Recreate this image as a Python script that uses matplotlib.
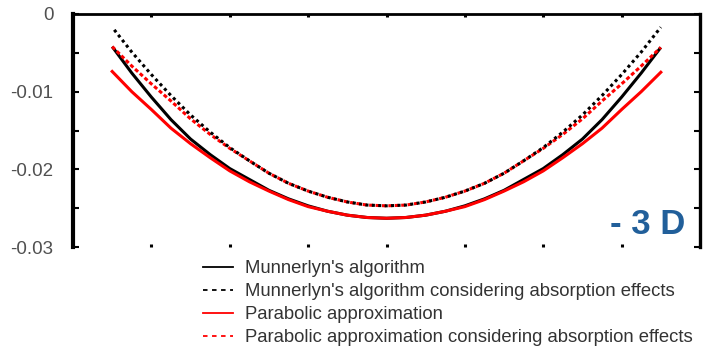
import matplotlib
matplotlib.use("Agg")
import matplotlib.pyplot as plt
from matplotlib.lines import Line2D

plt.rcParams['font.family'] = ['Liberation Sans', 'DejaVu Sans']

# Radial position (mm)
x = [-3.5, -3.25, -3.0, -2.75, -2.5, -2.25, -2.0, -1.75, -1.5, -1.25, -1.0, -0.75, -0.5, -0.25,
     0.0, 0.25, 0.5, 0.75, 1.0, 1.25, 1.5, 1.75, 2.0, 2.25, 2.5, 2.75, 3.0, 3.25, 3.5]

munnerlyn = [-0.0042, -0.0076, -0.0107, -0.0136, -0.0161, -0.0181, -0.0199, -0.0213, -0.0227,
             -0.0238, -0.0247, -0.0254, -0.0259, -0.0262, -0.0263, -0.0262, -0.0259, -0.0254,
             -0.0247, -0.0238, -0.0227, -0.0213, -0.0199, -0.0181, -0.0161, -0.0136, -0.0107,
             -0.0076, -0.0043]

munnerlyn_abs = [-0.0017, -0.0049, -0.0078, -0.0105, -0.0130, -0.0152, -0.0172, -0.0189, -0.0205,
                 -0.0218, -0.0228, -0.0236, -0.0242, -0.0246, -0.0247, -0.0246, -0.0242, -0.0236,
                 -0.0228, -0.0218, -0.0205, -0.0189, -0.0172, -0.0152, -0.0130, -0.0105, -0.0078,
                 -0.0049, -0.0017]

parabolic = [-0.0074, -0.0100, -0.0123, -0.0147, -0.0167, -0.0185, -0.0202, -0.0216, -0.0228,
             -0.0239, -0.0248, -0.0254, -0.0259, -0.0262, -0.0263, -0.0262, -0.0259, -0.0254,
             -0.0248, -0.0239, -0.0228, -0.0216, -0.0202, -0.0185, -0.0167, -0.0147, -0.0123,
             -0.0100, -0.0075]

parabolic_abs = [-0.0042, -0.0067, -0.0090, -0.0112, -0.0135, -0.0155, -0.0173, -0.0189, -0.0205,
                 -0.0218, -0.0228, -0.0236, -0.0242, -0.0246, -0.0247, -0.0246, -0.0242, -0.0236,
                 -0.0228, -0.0218, -0.0205, -0.0189, -0.0173, -0.0155, -0.0135, -0.0112, -0.0090,
                 -0.0067, -0.0043]

labels = ["Munnerlyn's algorithm",
          "Munnerlyn's algorithm considering absorption effects",
          "Parabolic approximation",
          "Parabolic approximation considering absorption effects"]

xticks = [-3, -2, -1, 0, 1, 2, 3]
yticks_major = [0, -0.01, -0.02, -0.03]
ytick_labels = ["0", "-0.01", "-0.02", "-0.03"]
yticks_minor = [-0.005, -0.015, -0.025]

fig = plt.figure(figsize=(7.03, 3.55), dpi=100)
ax = fig.add_axes([73/703, 1-247/355, (700-73)/703, (247-14)/355])

ax.plot(x, munnerlyn, color='black', lw=2.2, solid_capstyle='butt')
ax.plot(x, parabolic, color='red', lw=2.2)
ax.plot(x, parabolic_abs, color='red', lw=2.2, linestyle=(0, (1.3, 0.8)))
ax.plot(x, munnerlyn_abs, color='black', lw=2.2, linestyle=(1.0, (1.0, 1.1)))

ax.set_xlim(-4, 4)
ax.set_ylim(-0.03, 0)

ax.set_xticks(xticks)
ax.set_xticklabels([])
ax.set_yticks(yticks_major)
ax.set_yticklabels(ytick_labels)
ax.set_yticks(yticks_minor, minor=True)

ax.tick_params(axis='x', which='both', direction='in', length=2.2, width=2.2,
               top=True, bottom=True, colors='black')
ax.tick_params(axis='y', which='both', direction='in', length=4.5, width=1.5,
               left=True, right=True, pad=14, labelsize=13.5, labelcolor='#505050')

ax.spines['bottom'].set_visible(False)
ax.spines['left'].set_linewidth(3)
ax.spines['right'].set_linewidth(2.4)
ax.spines['top'].set_linewidth(2)

fig.text(685/703, 1-224/355, "- 3 D", ha='right', va='center',
         fontsize=25, fontweight='bold', color='#215F9A')

handles = [Line2D([], [], color='black', lw=1.3),
           Line2D([], [], color='black', lw=1.3, linestyle=(0, (2.5, 2.5))),
           Line2D([], [], color='red', lw=1.3),
           Line2D([], [], color='red', lw=1.3, linestyle=(0, (2.5, 2.5)))]
leg = fig.legend(handles, labels, loc='upper left', bbox_to_anchor=(203/703, 1-260/355),
                 frameon=False, fontsize=13.3, handlelength=1.65, handletextpad=0.6,
                 labelspacing=0.33, borderpad=0, borderaxespad=0)
for t in leg.get_texts():
    t.set_color('#333333')

fig.savefig("out.png", dpi=100)
